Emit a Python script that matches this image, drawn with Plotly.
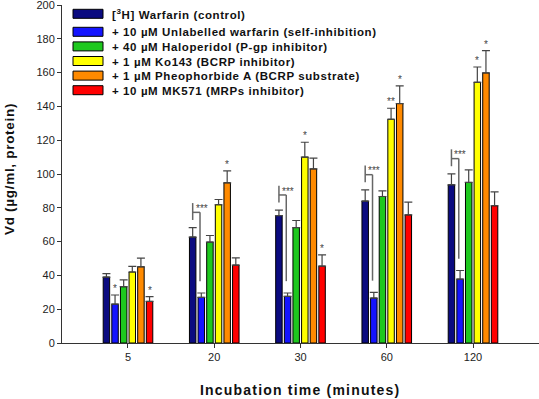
import plotly.graph_objects as go

# ---------------- data ----------------
times = ["5", "20", "30", "60", "120"]

series_names = [
    "[<sup>3</sup>H] Warfarin (control)",
    "+ 10 µM Unlabelled warfarin (self-inhibition)",
    "+ 40 µM Haloperidol (P-gp inhibitor)",
    "+ 1 µM Ko143 (BCRP inhibitor)",
    "+ 1 µM Pheophorbide A (BCRP substrate)",
    "+ 10 µM MK571 (MRPs inhibitor)",
]

control = [39.0, 62.7, 75.4, 84.0, 93.6]
control_err = [2.0, 5.6, 3.2, 6.6, 6.5]
unlabelled = [23.0, 27.0, 27.6, 26.6, 37.8]
unlabelled_err = [5.4, 2.6, 2.0, 3.3, 5.1]
haloperidol = [33.3, 59.7, 68.3, 86.7, 95.0]
haloperidol_err = [4.1, 3.9, 4.2, 3.3, 7.5]
ko143 = [42.0, 81.8, 110.0, 132.4, 154.3]
ko143_err = [3.3, 3.1, 8.8, 6.5, 9.0]
pheophorbide = [45.1, 94.8, 103.0, 141.7, 159.8]
pheophorbide_err = [5.1, 7.1, 6.4, 10.4, 13.2]
mk571 = [24.6, 46.1, 45.5, 75.8, 81.2]
mk571_err = [2.8, 4.3, 6.7, 7.6, 8.2]

control_sig = ["", "", "", "", ""]
unlabelled_sig = ["*", "", "", "", ""]
haloperidol_sig = ["", "", "", "", ""]
ko143_sig = ["", "", "*", "**", "*"]
pheophorbide_sig = ["", "*", "", "*", "*"]
mk571_sig = ["*", "", "*", "", ""]
bracket_sig = ["", "***", "***", "***", "***"]  # control vs unlabelled

y_ticks = [0, 20, 40, 60, 80, 100, 120, 140, 160, 180, 200]

x_title = "Incubation time (minutes)"
y_title = "Vd (µg/ml, protein)"

# ---------------- styling ----------------
colors = ["#0b0b80", "#1414ff", "#1ec81e", "#ffff00", "#ff8a00", "#ff0000"]
values = [control, unlabelled, haloperidol, ko143, pheophorbide, mk571]
errors = [control_err, unlabelled_err, haloperidol_err, ko143_err, pheophorbide_err, mk571_err]
sigs = [control_sig, unlabelled_sig, haloperidol_sig, ko143_sig, pheophorbide_sig, mk571_sig]

FONT = "Liberation Sans, Arial, sans-serif"
x_idx = list(range(len(times)))
n_series = len(values)
bargap = 0.4
pitch = (1 - bargap) / n_series

fig = go.Figure()
for j in range(n_series):
    fig.add_trace(go.Bar(
        x=x_idx, y=values[j], name=series_names[j],
        marker=dict(color=colors[j], line=dict(color="#000000", width=1)),
        error_y=dict(type="data", symmetric=False, array=errors[j],
                     arrayminus=[0] * len(times), color="#444444",
                     thickness=1.2, width=4),
        showlegend=False,
    ))

annotations = []
shapes = []

# significance stars over bars
for j in range(n_series):
    for i in x_idx:
        s = sigs[j][i]
        if s:
            annotations.append(dict(
                x=i + (j - (n_series - 1) / 2) * pitch, y=values[j][i] + errors[j][i],
                xref="x", yref="y", text=s, showarrow=False,
                xanchor="center", yanchor="bottom", yshift=-1,
                font=dict(family=FONT, size=10, color="#444444")))

# brackets control vs unlabelled
off_ctrl = (0 - (n_series - 1) / 2) * pitch
off_unl = (1 - (n_series - 1) / 2) * pitch
for i in x_idx:
    if not bracket_sig[i]:
        continue
    xl = i + off_ctrl
    xr = i + off_unl - 0.015
    yb = control[i] + control_err[i] + 4.5
    yt = yb + 10
    yh = yb + 4.5
    yr = unlabelled[i] + unlabelled_err[i] + 7
    line = dict(color="#666666", width=1.5)
    shapes.append(dict(type="line", xref="x", yref="y", x0=xl, x1=xl, y0=yb, y1=yt, line=line))
    shapes.append(dict(type="line", xref="x", yref="y", x0=xl, x1=xr, y0=yh, y1=yh, line=line))
    shapes.append(dict(type="line", xref="x", yref="y", x0=xr, x1=xr, y0=yh, y1=yr, line=line))
    annotations.append(dict(
        x=xl + 0.01, y=yt, xref="x", yref="y", text=bracket_sig[i], showarrow=False,
        xanchor="left", yanchor="top", yshift=2,
        font=dict(family=FONT, size=10, color="#444444")))

# manual legend (paper coords, pixel-based)
PLOT_L, PLOT_W = 62, 477
PLOT_T, PLOT_H = 5, 338


def px_x(px):
    return (px - PLOT_L) / PLOT_W


def px_y(py):
    return 1 - (py - PLOT_T) / PLOT_H


def spaced(t, sp):
    return '<span style="letter-spacing:%spx">%s</span>' % (sp, t)


row_y = [13.8] + [31.8 + 14.6 * k for k in range(n_series - 1)]
for j in range(n_series):
    yc = row_y[j]
    shapes.append(dict(type="rect", xref="paper", yref="paper",
                       x0=px_x(73), x1=px_x(103), y0=px_y(yc - 4.5), y1=px_y(yc + 4.5),
                       fillcolor=colors[j], line=dict(color="#000000", width=1)))
    annotations.append(dict(
        x=px_x(110), y=px_y(yc + 0.5), xref="paper", yref="paper",
        text="<b>" + spaced(series_names[j], 0.6) + "</b>", showarrow=False,
        xanchor="left", yanchor="middle",
        font=dict(family=FONT, size=11.5, color="#111111")))

# axis titles
annotations.append(dict(
    x=px_x(300), y=px_y(390), xref="paper", yref="paper",
    text="<b>" + spaced(x_title, 1.2) + "</b>", showarrow=False,
    xanchor="center", yanchor="middle",
    font=dict(family=FONT, size=14, color="#111111")))
annotations.append(dict(
    x=px_x(9), y=px_y(169), xref="paper", yref="paper",
    text="<b>" + spaced(y_title, 0.7) + "</b>", showarrow=False, textangle=-90,
    xanchor="center", yanchor="middle",
    font=dict(family=FONT, size=13.5, color="#111111")))

fig.update_layout(
    width=539, height=399,
    margin=dict(l=62, r=0, t=5, b=56),
    paper_bgcolor="white", plot_bgcolor="white",
    barmode="group", bargap=bargap, bargroupgap=0.25,
    showlegend=False,
    shapes=shapes, annotations=annotations,
    font=dict(family=FONT, size=11, color="#222222"),
    xaxis=dict(range=[-0.765, 4.765], tickmode="array", tickvals=x_idx, ticktext=times,
               showline=True, linecolor="#333333", linewidth=1,
               ticks="outside", ticklen=4, tickcolor="#333333",
               showgrid=False, zeroline=False, fixedrange=True,
               ticklabeloverflow="allow",
               tickfont=dict(family=FONT, size=11, color="#222222")),
    yaxis=dict(range=[0, 200], tickmode="array", tickvals=y_ticks,
               showline=True, linecolor="#333333", linewidth=1,
               ticks="outside", ticklen=4, tickcolor="#333333",
               showgrid=False, zeroline=False, fixedrange=True,
               ticklabeloverflow="allow",
               tickfont=dict(family=FONT, size=11, color="#222222")),
)

fig.write_html("out.html", config={"displayModeBar": False},
               post_script=["document.body.style.margin='0';document.body.style.overflow='hidden';"])
